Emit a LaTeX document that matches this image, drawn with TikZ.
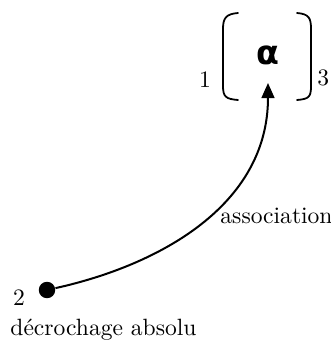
\documentclass[tikz,border=0pt]{standalone}
\usepackage{amsmath,amssymb}
\usepackage{fontspec}
\usepackage{tikz}
\usetikzlibrary{arrows.meta}
\newfontfamily\greekfont{DejaVu Sans}

\begin{document}
\begin{tikzpicture}[x=0.45pt,y=0.45pt,
  lbl/.style={font=\fontsize{10.6}{13}\selectfont,inner sep=0pt},
  paren/.style={line width=0.8pt,line cap=round}]
  \useasboundingbox (0,0) rectangle (331,345);
  % brackets round the symbol
  \draw[paren] (238,332) .. controls (226,331) and (223,327) .. (223,316) -- (223,259) .. controls (223,248) and (226,246) .. (238,245);
  \draw[paren] (297,332) .. controls (309,331) and (311,327) .. (311,316) -- (311,259) .. controls (311,248) and (309,246) .. (297,245);
  \node[font=\greekfont\bfseries\fontsize{15}{17}\selectfont,inner sep=0pt] (alpha) at (268,290) {α};
  \coordinate (tip) at (268,262);
  \node[lbl] (one) at (205,265) {1};
  \node[lbl,anchor=west] (three) at (317,267) {3};
  % the point and its labels
  \node[circle,fill,inner sep=0pt,minimum size=7.4pt] (dot) at (47,55) {};
  \node[lbl] (two) at (19,47) {2};
  \node[lbl,anchor=west] (decro) at (10,15) {décrochage absolu};
  \node[lbl,anchor=west] (assoc) at (220,129) {association};
  \draw[line width=0.9pt,-{Triangle[length=6.8pt,width=5.8pt]}] (dot) .. controls (160,80) and (268,140) .. (tip);
\end{tikzpicture}
\end{document}
